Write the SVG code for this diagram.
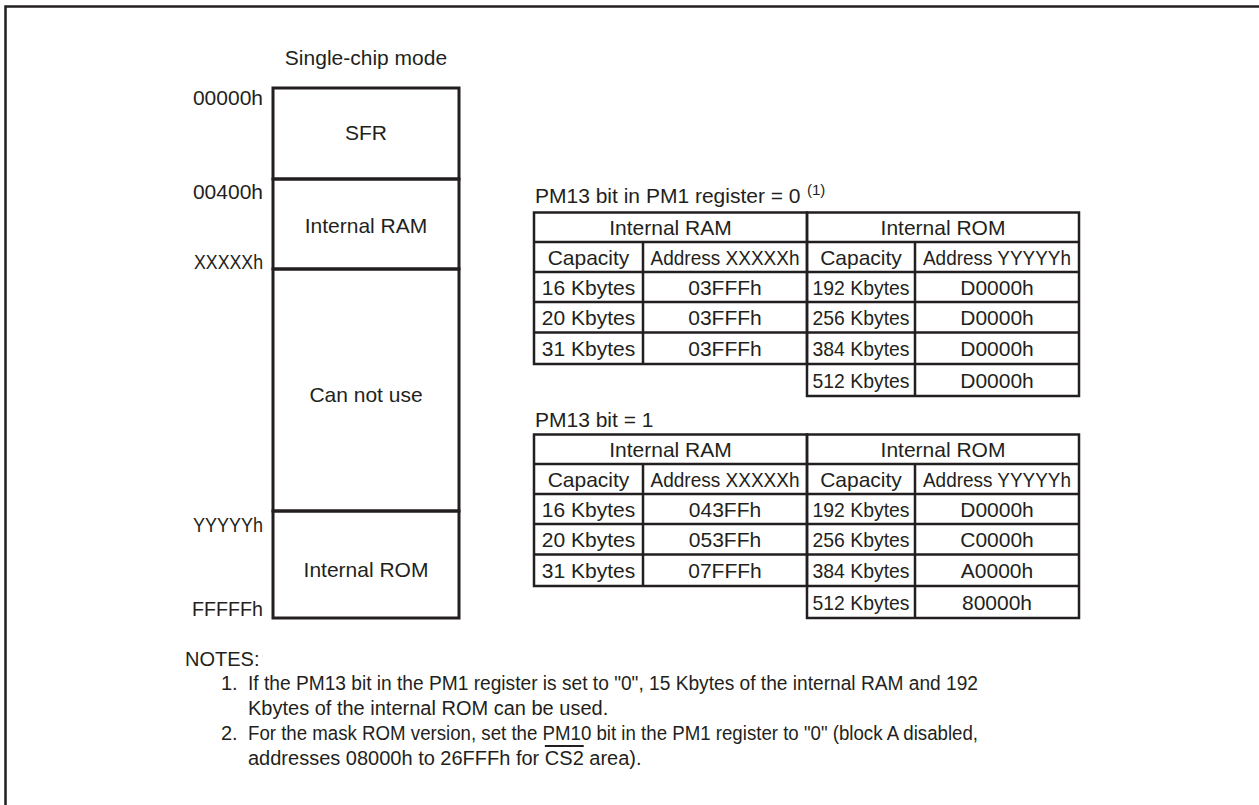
<svg xmlns="http://www.w3.org/2000/svg" width="1259" height="805" viewBox="0 0 1259 805">
<style>
text{font-family:"Liberation Sans",Arial,Helvetica,sans-serif;font-size:21px;fill:#231f20}
.c{text-anchor:middle}
.r{text-anchor:end}
.box{fill:none;stroke:#231f20;stroke-width:3}
.grid{fill:none;stroke:#231f20;stroke-width:2.5}
.frame{fill:none;stroke:#231f20;stroke-width:2.5}
.note{font-size:20px}
</style>
<rect width="1259" height="805" fill="#fff"/>
<path class="frame" d="M5.5,805 V6.5 H1259"/>

<g id="memory-map">
<text class="c" x="366" y="65">Single-chip mode</text>
<g id="block-sfr">
<rect class="box" x="273" y="88" width="186" height="91"/>
<text class="c" x="366" y="140">SFR</text>
</g>
<g id="block-ram">
<rect class="box" x="273" y="179" width="186" height="90"/>
<text class="c" x="366" y="233">Internal RAM</text>
</g>
<g id="block-cannot">
<rect class="box" x="273" y="269" width="186" height="242"/>
<text class="c" x="366" y="402">Can not use</text>
</g>
<g id="block-rom">
<rect class="box" x="273" y="511" width="186" height="107"/>
<text class="c" x="366" y="577">Internal ROM</text>
</g>
<g id="addr-labels">
<text class="r" x="263" y="105">00000h</text>
<text class="r" x="263" y="199">00400h</text>
<text class="r" x="263" y="269" textLength="69" lengthAdjust="spacingAndGlyphs">XXXXXh</text>
<text class="r" x="263" y="532" textLength="70" lengthAdjust="spacingAndGlyphs">YYYYYh</text>
<text class="r" x="263" y="616" textLength="71" lengthAdjust="spacingAndGlyphs">FFFFFh</text>
</g>
</g>

<g id="table-pm13-0">
<text x="535" y="203">PM13 bit in PM1 register = 0</text>
<text x="807" y="195" style="font-size:15px">(1)</text>
<g class="grid">
<rect x="534" y="212.5" width="273" height="151.5"/>
<rect x="807" y="212.5" width="272" height="183.5"/>
<path d="M534,242 H1079 M534,272 H1079 M534,302 H1079 M534,332.5 H1079 M807,364 H1079 M643,242 V364 M915,242 V396"/>
</g>
<text class="c" x="670.5" y="235">Internal RAM</text>
<text class="c" x="943" y="235">Internal ROM</text>
<text class="c" x="588.5" y="264.5">Capacity</text>
<text class="c" x="725" y="264.5" textLength="149" lengthAdjust="spacingAndGlyphs">Address XXXXXh</text>
<text class="c" x="861" y="264.5">Capacity</text>
<text class="c" x="997" y="264.5" textLength="148" lengthAdjust="spacingAndGlyphs">Address YYYYYh</text>
<text class="c" x="588.5" y="294.5">16 Kbytes</text>
<text class="c" x="725" y="294.5">03FFFh</text>
<text class="c" x="861" y="294.5" textLength="97" lengthAdjust="spacingAndGlyphs">192 Kbytes</text>
<text class="c" x="997" y="294.5">D0000h</text>
<text class="c" x="588.5" y="324.7">20 Kbytes</text>
<text class="c" x="725" y="324.7">03FFFh</text>
<text class="c" x="861" y="324.7" textLength="97" lengthAdjust="spacingAndGlyphs">256 Kbytes</text>
<text class="c" x="997" y="324.7">D0000h</text>
<text class="c" x="588.5" y="355.7">31 Kbytes</text>
<text class="c" x="725" y="355.7">03FFFh</text>
<text class="c" x="861" y="355.7" textLength="97" lengthAdjust="spacingAndGlyphs">384 Kbytes</text>
<text class="c" x="997" y="355.7">D0000h</text>
<text class="c" x="861" y="387.5" textLength="97" lengthAdjust="spacingAndGlyphs">512 Kbytes</text>
<text class="c" x="997" y="387.5">D0000h</text>
</g>

<g id="table-pm13-1" transform="translate(0,222)">
<text x="535" y="205">PM13 bit = 1</text>
<g class="grid">
<rect x="534" y="212.5" width="273" height="151.5"/>
<rect x="807" y="212.5" width="272" height="183.5"/>
<path d="M534,242 H1079 M534,272 H1079 M534,302 H1079 M534,332.5 H1079 M807,364 H1079 M643,242 V364 M915,242 V396"/>
</g>
<text class="c" x="670.5" y="235">Internal RAM</text>
<text class="c" x="943" y="235">Internal ROM</text>
<text class="c" x="588.5" y="264.5">Capacity</text>
<text class="c" x="725" y="264.5" textLength="149" lengthAdjust="spacingAndGlyphs">Address XXXXXh</text>
<text class="c" x="861" y="264.5">Capacity</text>
<text class="c" x="997" y="264.5" textLength="148" lengthAdjust="spacingAndGlyphs">Address YYYYYh</text>
<text class="c" x="588.5" y="294.5">16 Kbytes</text>
<text class="c" x="725" y="294.5">043FFh</text>
<text class="c" x="861" y="294.5" textLength="97" lengthAdjust="spacingAndGlyphs">192 Kbytes</text>
<text class="c" x="997" y="294.5">D0000h</text>
<text class="c" x="588.5" y="324.7">20 Kbytes</text>
<text class="c" x="725" y="324.7">053FFh</text>
<text class="c" x="861" y="324.7" textLength="97" lengthAdjust="spacingAndGlyphs">256 Kbytes</text>
<text class="c" x="997" y="324.7">C0000h</text>
<text class="c" x="588.5" y="355.7">31 Kbytes</text>
<text class="c" x="725" y="355.7">07FFFh</text>
<text class="c" x="861" y="355.7" textLength="97" lengthAdjust="spacingAndGlyphs">384 Kbytes</text>
<text class="c" x="997" y="355.7">A0000h</text>
<text class="c" x="861" y="387.5" textLength="97" lengthAdjust="spacingAndGlyphs">512 Kbytes</text>
<text class="c" x="997" y="387.5">80000h</text>
</g>

<g id="notes">
<text class="note" x="185" y="666">NOTES:</text>
<text class="note" x="221" y="690">1.</text>
<text class="note" x="248" y="690" textLength="730" lengthAdjust="spacingAndGlyphs">If the PM13 bit in the PM1 register is set to "0", 15 Kbytes of the internal RAM and 192</text>
<text class="note" x="248" y="715">Kbytes of the internal ROM can be used.</text>
<text class="note" x="221" y="740">2.</text>
<text class="note" x="248" y="740" textLength="730" lengthAdjust="spacingAndGlyphs">For the mask ROM version, set the PM10 bit in the PM1 register to "0" (block A disabled,</text>
<text class="note" x="248" y="765">addresses 08000h to 26FFFh for <tspan style="text-decoration:overline">CS2</tspan> area).</text>
</g>

<g id="connectors"/>
</svg>
